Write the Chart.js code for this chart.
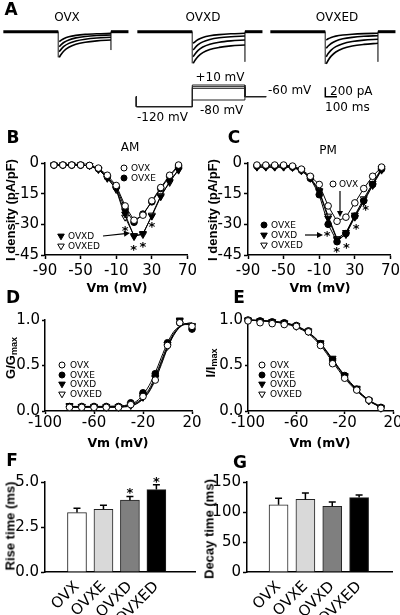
<!DOCTYPE html>
<html lang="en">
<head>
<meta charset="UTF-8">
<title>Ovariectomy current figure</title>
<script src="https://cdn.jsdelivr.net/npm/chart.js"></script>
<style>
  body { margin: 0; background: #fff; }
  #fig { position: relative; width: 400px; height: 615px; overflow: hidden; color: #000; font-family: "DejaVu Sans", sans-serif; }
  canvas { position: absolute; }
  .t { position: absolute; white-space: nowrap; line-height: 1; z-index: 3; }
  .lt { font: bold 17px "DejaVu Sans", sans-serif; }
  .ax { font: bold 12.5px "DejaVu Sans", sans-serif; }
  .ay { font: bold 13px "Liberation Sans", Arial, sans-serif; }
  .ay sub { font-size: 9px; vertical-align: -2px; }
  .lg { font: 9px "DejaVu Sans", sans-serif; }
  .tr { font: 12px "DejaVu Sans", sans-serif; }
</style>
</head>
<body>
<div id="fig"></div>
<script>
const groups = ['OVX', 'OVXE', 'OVXD', 'OVXED'];

// A: example currents (pA) against time (ms), step on at 450 ms, off at 900 ms
const traceT = [458, 475, 500, 540, 600, 680, 780, 900];
const tracesOVX = [
  [-213, -181, -145, -109, -79, -57, -43, -34],
  [-319, -274, -224, -175, -132, -102, -82, -70],
  [-426, -371, -309, -248, -196, -159, -134, -119],
  [-545, -479, -405, -332, -269, -225, -195, -177]
];
const tracesOVXD = [
  [-247, -209, -166, -123, -87, -62, -45, -34],
  [-389, -335, -276, -216, -166, -130, -106, -91],
  [-532, -468, -397, -326, -266, -223, -195, -177],
  [-672, -602, -524, -446, -380, -334, -302, -283]
];
const tracesOVXED = [
  [-177, -151, -123, -94, -70, -53, -41, -34],
  [-353, -305, -251, -198, -152, -120, -98, -85],
  [-532, -465, -391, -317, -255, -210, -180, -162],
  [-687, -608, -520, -432, -357, -304, -270, -247]
];
const offArtefact = [-390, -640, -640];
const baseT = [-20, 450, 900, 1050];
const protoT = [-28, -28, 450, 450, 900, 900, 1082];
const protoSteps = [10, 0, -10, -80];
const scaleBarT = [450, 450, 550];
const scaleBarI = [-1183, -1383, -1383];

// B, C: I-V curves (pA/pF)
const ivVm = [-80, -70, -60, -50, -40, -30, -20, -10, 0, 10, 20, 30, 40, 50, 60];
const amOVX   = [-1, -1, -1, -1, -1.2, -2.5, -6, -11, -21, -28, -25.5, -18.5, -12, -6, -1];
const amOVXE  = [-1, -1, -1, -1, -1.3, -2.8, -6.8, -11.8, -22.5, -29, -25, -19, -12.5, -6.5, -1.5];
const amOVXD  = [-1, -1, -1, -1, -1.3, -3, -7.5, -12.5, -25, -36, -34.5, -26, -16.5, -9, -3.5];
const amOVXED = [-1, -1, -1, -1, -1.2, -3.2, -7.2, -13, -26.5, -35.5, -35, -25.5, -16, -9.5, -3];
const pmOVX   = [-1, -1, -1, -1, -1.5, -3, -6.5, -10.5, -21, -28.5, -26.5, -19.5, -12.5, -6.5, -2];
const pmOVXE  = [-1.5, -1.5, -1.5, -1.5, -2, -3.5, -7.5, -15.5, -30, -38.5, -34.5, -26, -18.5, -10.5, -3];
const pmOVXD  = [-2, -2, -2, -2, -2, -3.5, -7.5, -14, -27, -37.5, -35, -26.5, -19, -11, -3.5];
const pmOVXED = [-2, -2, -2, -2, -2.2, -3.8, -7, -13.5, -26, -37, -34, -25.5, -17.5, -10, -2.5];
const amStarVm = [0, 9.5, 20, 30];
const amStarI = [-32, -41, -39.5, -30];
const pmStarVm = [-1, 9.5, 20.5, 31.5, 42];
const pmStarI = [-34.3, -42.2, -40.2, -30.7, -21.3];
const ivXTicks = [-90, -50, -10, 30, 70];
const ivYTicks = [-45, -30, -15, 0];

// D: activation (G/Gmax)
const actVm = [-80, -70, -60, -50, -40, -30, -20, -10, 0, 10, 20];
const actOVX   = [0.04, 0.04, 0.04, 0.04, 0.04, 0.07, 0.16, 0.34, 0.72, 0.97, 0.93];
const actOVXE  = [0.05, 0.05, 0.05, 0.05, 0.05, 0.09, 0.20, 0.41, 0.75, 0.97, 0.90];
const actOVXD  = [0.06, 0.05, 0.05, 0.05, 0.05, 0.07, 0.17, 0.37, 0.73, 1.00, 0.93];
const actOVXED = [0.05, 0.05, 0.04, 0.04, 0.04, 0.06, 0.15, 0.36, 0.71, 0.99, 0.94];
const fitActVm = [-80, -60, -40, -35, -30, -25, -20, -15, -10, -5, 0, 5, 10, 15, 20];
const fitActOVX   = [0.04, 0.04, 0.04, 0.045, 0.055, 0.08, 0.13, 0.21, 0.34, 0.51, 0.69, 0.83, 0.92, 0.96, 0.97];
const fitActOVXE  = [0.05, 0.05, 0.055, 0.06, 0.08, 0.11, 0.18, 0.28, 0.42, 0.59, 0.75, 0.87, 0.93, 0.95, 0.95];
const fitActOVXD  = [0.05, 0.05, 0.05, 0.055, 0.07, 0.095, 0.15, 0.24, 0.38, 0.55, 0.72, 0.85, 0.93, 0.96, 0.96];
const fitActOVXED = [0.045, 0.045, 0.045, 0.05, 0.06, 0.085, 0.14, 0.22, 0.36, 0.53, 0.70, 0.84, 0.92, 0.96, 0.96];

// E: inactivation (I/Imax)
const inVm = [-100, -90, -80, -70, -60, -50, -40, -30, -20, -10, 0, 10];
const inOVX   = [0.99, 0.97, 0.96, 0.95, 0.93, 0.87, 0.72, 0.52, 0.36, 0.23, 0.12, 0.03];
const inOVXE  = [1.00, 0.99, 0.98, 0.97, 0.94, 0.88, 0.74, 0.56, 0.39, 0.24, 0.12, 0.04];
const inOVXD  = [1.00, 0.99, 0.98, 0.97, 0.94, 0.88, 0.75, 0.58, 0.39, 0.25, 0.12, 0.04];
const inOVXED = [1.00, 0.99, 0.98, 0.96, 0.93, 0.87, 0.74, 0.56, 0.38, 0.24, 0.11, 0.03];
const fitInOVX   = [1.00, 0.99, 0.98, 0.96, 0.92, 0.85, 0.72, 0.54, 0.36, 0.22, 0.11, 0.04];
const fitInOVXE  = [1.00, 0.995, 0.985, 0.97, 0.93, 0.86, 0.74, 0.56, 0.38, 0.23, 0.12, 0.05];
const fitInOVXD  = [1.00, 0.995, 0.985, 0.97, 0.935, 0.865, 0.745, 0.57, 0.39, 0.24, 0.12, 0.04];
const fitInOVXED = [1.00, 0.995, 0.985, 0.965, 0.93, 0.86, 0.735, 0.56, 0.38, 0.23, 0.115, 0.04];
const vmTicks = [-100, -60, -20, 20];
const normTicks = [0, 0.5, 1];

// F, G: kinetics (ms)
const riseTime = [3.30, 3.48, 3.99, 4.58];
const riseErr = [0.24, 0.23, 0.21, 0.27];
const riseStar = [null, null, 4.54, 5.15];
const decayTime = [112, 121, 109.5, 124];
const decayErr = [11, 10.5, 7, 4.5];
const decayStar = [null, null, null, null];
const riseTicks = [0, 2.5, 5];
const decayTicks = [0, 50, 100, 150];

const barFill = ['#ffffff', '#d9d9d9', '#7f7f7f', '#000000'];
const marker = {
  OVX:   { style: 'circle', r: 3.3, rot: 0, fill: '#ffffff' },
  OVXE:  { style: 'circle', r: 3.3, rot: 0, fill: '#000000' },
  OVXD:  { style: 'triangle', r: 4, rot: 180, fill: '#000000' },
  OVXED: { style: 'triangle', r: 4, rot: 180, fill: '#ffffff' }
};

const fig = document.getElementById('fig');
const tickFont = { family: 'DejaVu Sans', size: 15 };

function canvasAt(x, y, w, h) {
  const c = document.createElement('canvas');
  c.width = w; c.height = h;
  c.style.left = x + 'px'; c.style.top = y + 'px';
  c.style.width = w + 'px'; c.style.height = h + 'px';
  fig.appendChild(c);
  return c;
}

// canvas around a wanted plot area
function place(a, yw, pt, pr, xh) {
  return canvasAt(a.l - yw, a.t - pt, a.r - a.l + yw + pr, a.b - a.t + pt + xh);
}

function baseOpts(scales, pt, pr) {
  return {
    responsive: false, animation: false, devicePixelRatio: 1, events: [],
    layout: { padding: { left: 0, top: pt, right: pr, bottom: 0 } },
    plugins: { legend: { display: false }, tooltip: { enabled: false } },
    scales: scales
  };
}

function linAxis(pos, min, max, ticks, fmt, size, pad, tl) {
  return {
    type: 'linear', position: pos, min: min, max: max,
    afterBuildTicks: s => { s.ticks = ticks.map(v => ({ value: v })); },
    afterFit: s => { if (pos === 'bottom') s.height = size; else s.width = size; },
    border: { display: true, color: '#000', width: 1.5 },
    grid: { display: true, drawOnChartArea: false, drawTicks: true, tickLength: tl, tickColor: '#000', tickWidth: 1.5 },
    ticks: { color: '#000', font: tickFont, padding: pad, autoSkip: false, maxRotation: 0, minRotation: 0, callback: fmt }
  };
}

function hidden(min, max) {
  return { type: 'linear', display: false, min: min, max: max };
}

function lineSet(xs, ys, w, smooth, col) {
  return {
    data: xs.map((x, i) => ({ x: x, y: ys[i] })),
    showLine: true, pointRadius: 0, borderColor: col || '#000', borderWidth: w,
    cubicInterpolationMode: smooth ? 'monotone' : 'default', tension: 0, clip: false
  };
}

function pointSet(name, xs, ys, withLine) {
  const m = marker[name];
  return {
    label: name,
    data: xs.map((x, i) => ({ x: x, y: ys[i] })),
    showLine: withLine, borderColor: '#000', borderWidth: 1,
    pointStyle: m.style, pointRadius: m.r, pointRotation: m.rot,
    pointBackgroundColor: m.fill, pointBorderColor: '#000', pointBorderWidth: 1,
    clip: false
  };
}

function starPlugin(xs, ys) {
  return {
    id: 'stars',
    afterDatasetsDraw(chart) {
      const ctx = chart.ctx, sx = chart.scales.x, sy = chart.scales.y;
      ctx.save();
      ctx.fillStyle = '#000';
      ctx.font = 'bold 13px "DejaVu Sans"';
      ctx.textAlign = 'center';
      ctx.textBaseline = 'alphabetic';
      xs.forEach((x, i) => {
        if (ys[i] == null) return;
        ctx.fillText('*', sx.getPixelForValue(x), sy.getPixelForValue(ys[i]) + 7);
      });
      ctx.restore();
    }
  };
}

function errPlugin(vals, errs) {
  return {
    id: 'errbars',
    afterDatasetsDraw(chart) {
      const ctx = chart.ctx, sx = chart.scales.x, sy = chart.scales.y;
      ctx.save();
      ctx.strokeStyle = '#000';
      ctx.lineWidth = 1.5;
      vals.forEach((v, i) => {
        const x = sx.getPixelForValue(i + 1);
        const y0 = sy.getPixelForValue(v), y1 = sy.getPixelForValue(v + errs[i]);
        ctx.beginPath();
        ctx.moveTo(x, y0); ctx.lineTo(x, y1);
        ctx.moveTo(x - 3.5, y1); ctx.lineTo(x + 3.5, y1);
        ctx.stroke();
      });
      ctx.restore();
    }
  };
}

// ---- A: traces ----
function tracePanel(left, traces, offDepth, extra) {
  const c = canvasAt(left, 20, 145, 90);
  const ds = [
    lineSet(baseT.slice(0, 2), [0, 0], 3),
    lineSet(baseT.slice(2, 4), [0, 0], 3)
  ];
  traces.forEach(tr => ds.push(lineSet(traceT, tr, 1.6, true)));
  const deepest = Math.min(...traces.map(tr => tr[0]));
  ds.push(lineSet([450, 450], [0, deepest], 0.8, false, '#555'));
  ds.push(lineSet([900, 900], [0, offDepth], 0.8, false, '#555'));
  if (extra) ds.push(extra);
  new Chart(c, {
    type: 'scatter',
    data: { datasets: ds },
    options: baseOpts({ x: hidden(-40, 1200), y: hidden(-1666, 249) }, 0, 0)
  });
}
tracePanel(1, tracesOVX, offArtefact[0]);
tracePanel(135, tracesOVXD, offArtefact[1]);
tracePanel(268, tracesOVXED, offArtefact[2], lineSet(scaleBarT, scaleBarI, 1.5, false));

// voltage protocol, same time base as the OVXD traces
new Chart(canvasAt(135, 70, 145, 50), {
  type: 'scatter',
  data: {
    datasets: protoSteps.map(v => lineSet(protoT, [-60, -120, -120, v, v, -60, -60], 1, false, '#222'))
  },
  options: baseOpts({ x: hidden(-40, 1200), y: hidden(-200, 100) }, 0, 0)
});

// ---- B, C: I-V ----
function ivPanel(a, sets, sVm, sI) {
  const c = place(a, 45, 12, 10, 30);
  new Chart(c, {
    type: 'scatter',
    data: { datasets: sets.map((d, i) => pointSet(groups[i], ivVm, d, true)) },
    options: baseOpts({
      x: linAxis('bottom', -90, 70, ivXTicks, v => String(v), 30, 3, 4),
      y: linAxis('left', -45, 0, ivYTicks, v => String(v), 45, 2, 4)
    }, 12, 10),
    plugins: [starPlugin(sVm, sI)]
  });
}
ivPanel({ l: 45, t: 163, r: 190, b: 255 }, [amOVX, amOVXE, amOVXD, amOVXED], amStarVm, amStarI);
ivPanel({ l: 248, t: 163, r: 393, b: 255 }, [pmOVX, pmOVXE, pmOVXD, pmOVXED], pmStarVm, pmStarI);

// ---- D, E: normalised curves ----
function normPanel(a, xs, sets, fitXs, fits, xmin, xmax) {
  const c = place(a, 45, 12, 10, 30);
  const ds = sets.map((d, i) => pointSet(groups[i], xs, d, false));
  fits.forEach(f => ds.push(lineSet(fitXs, f, 1, true)));
  new Chart(c, {
    type: 'scatter',
    data: { datasets: ds },
    options: baseOpts({
      x: linAxis('bottom', xmin, xmax, vmTicks, v => String(v), 30, 0, 3),
      y: linAxis('left', 0, 1, normTicks, v => v.toFixed(1), 45, 2, 3)
    }, 12, 10)
  });
}
normPanel({ l: 45, t: 320, r: 192, b: 411 }, actVm,
  [actOVX, actOVXE, actOVXD, actOVXED], fitActVm,
  [fitActOVX, fitActOVXE, fitActOVXD, fitActOVXED], -100, 20);
normPanel({ l: 248, t: 320, r: 393, b: 411 }, inVm,
  [inOVX, inOVXE, inOVXD, inOVXED], inVm,
  [fitInOVX, fitInOVXE, fitInOVXD, fitInOVXED], -100, 20);

// ---- F, G: bars ----
function barPanel(a, vals, errs, stars, xmax, yMax, yTicks, fmt) {
  const c = place(a, 45, 12, 6, 615 - a.b);
  new Chart(c, {
    type: 'bar',
    data: {
      datasets: [{
        data: vals.map((v, i) => ({ x: i + 1, y: v })),
        backgroundColor: barFill, borderColor: '#222', borderWidth: 1,
        borderSkipped: 'bottom', barThickness: 19
      }]
    },
    options: baseOpts({
      x: {
        type: 'linear', position: 'bottom', min: 0.5, max: xmax,
        afterBuildTicks: s => { s.ticks = groups.map((g, i) => ({ value: i + 1 })); },
        afterFit: s => { s.height = 615 - a.b; },
        border: { display: true, color: '#000', width: 1.5 },
        grid: { display: false, drawTicks: false },
        ticks: { color: '#000', font: tickFont, padding: 6, autoSkip: false,
                 minRotation: 45, maxRotation: 45, callback: v => groups[v - 1] }
      },
      y: linAxis('left', 0, yMax, yTicks, fmt, 45, 2, 4)
    }, 12, 6),
    plugins: [errPlugin(vals, errs), starPlugin([1, 2, 3, 4], stars)]
  });
}
barPanel({ l: 45, t: 482, r: 195, b: 572 }, riseTime, riseErr, riseStar, 4.75, 5, riseTicks, v => v.toFixed(1));
barPanel({ l: 247, t: 482, r: 392, b: 572 }, decayTime, decayErr, decayStar, 4.55, 150, decayTicks, v => String(v));

// ---- legend markers and arrows ----
const ov = canvasAt(0, 0, 400, 615);
ov.style.zIndex = 2;
const octx = ov.getContext('2d');

function drawMarker(name, x, y) {
  const m = marker[name];
  octx.save();
  octx.fillStyle = m.fill;
  octx.strokeStyle = '#000';
  octx.lineWidth = 1;
  octx.beginPath();
  if (m.style === 'circle') {
    octx.arc(x, y, 3, 0, Math.PI * 2);
  } else {
    const r = 3.8;
    octx.moveTo(x, y + r);
    octx.lineTo(x - r * 0.866, y - r / 2);
    octx.lineTo(x + r * 0.866, y - r / 2);
    octx.closePath();
  }
  octx.fill();
  octx.stroke();
  octx.restore();
}

function arrow(x0, y0, x1, y1) {
  const ang = Math.atan2(y1 - y0, x1 - x0);
  octx.save();
  octx.strokeStyle = '#000';
  octx.fillStyle = '#000';
  octx.lineWidth = 1.2;
  octx.beginPath();
  octx.moveTo(x0, y0);
  octx.lineTo(x1 - 5 * Math.cos(ang), y1 - 5 * Math.sin(ang));
  octx.stroke();
  octx.beginPath();
  octx.moveTo(x1, y1);
  octx.lineTo(x1 - 6 * Math.cos(ang) + 3 * Math.sin(ang), y1 - 6 * Math.sin(ang) - 3 * Math.cos(ang));
  octx.lineTo(x1 - 6 * Math.cos(ang) - 3 * Math.sin(ang), y1 - 6 * Math.sin(ang) + 3 * Math.cos(ang));
  octx.closePath();
  octx.fill();
  octx.restore();
}

// text helper
function T(html, x, y, cls, anchor) {
  const d = document.createElement('div');
  d.className = 't ' + cls;
  d.innerHTML = html;
  d.style.left = x + 'px';
  d.style.top = y + 'px';
  d.style.transform = anchor === 'l' ? 'translate(0,-50%)'
    : anchor === 'v' ? 'translate(-50%,-50%) rotate(-90deg)'
    : 'translate(-50%,-50%)';
  fig.appendChild(d);
}

// legends
function legendRows(names, mx, tx, ys) {
  names.forEach((n, i) => {
    drawMarker(n, mx, ys[i]);
    T(n, tx, ys[i], 'lg', 'l');
  });
}
legendRows(['OVX', 'OVXE'], 124, 131, [168, 178]);
legendRows(['OVXD', 'OVXED'], 61, 68, [236, 246]);
arrow(103, 236, 130, 233);
legendRows(['OVX'], 333, 339, [184]);
arrow(340, 191, 340, 217);
legendRows(['OVXE', 'OVXD', 'OVXED'], 264, 271, [225, 235, 245]);
arrow(305, 235, 323, 235);
legendRows(groups, 62, 70, [365, 375, 384, 394]);
legendRows(groups, 262, 270, [365, 375, 384, 394]);

// panel A labels
T('OVX', 67, 17, 'tr');
T('OVXD', 203, 17, 'tr');
T('OVXED', 337, 17, 'tr');
T('+10 mV', 220, 77, 'tr');
T('-60 mV', 268, 90, 'tr', 'l');
T('-120 mV', 137, 117, 'tr', 'l');
T('-80 mV', 200, 110, 'tr', 'l');
T('200 pA', 330, 91, 'tr', 'l');
T('100 ms', 325, 107, 'tr', 'l');

// panel letters
T('A', 11, 9, 'lt');
T('B', 13, 137, 'lt');
T('C', 234, 137, 'lt');
T('D', 13, 297, 'lt');
T('E', 239, 297, 'lt');
T('F', 12, 460, 'lt');
T('G', 240, 462, 'lt');
T('AM', 130, 147, 'tr');
T('PM', 328, 150, 'tr');

// axis titles
T('I density (pA/pF)', 10, 210, 'ay', 'v');
T('I density (pA/pF)', 212, 210, 'ay', 'v');
T('G/G<sub>max</sub>', 11, 358, 'ay', 'v');
T('I/I<sub>max</sub>', 211, 363, 'ay', 'v');
T('Rise time (ms)', 10, 526, 'ay', 'v');
T('Decay time (ms)', 209, 529, 'ay', 'v');
T('Vm (mV)', 117, 287, 'ax');
T('Vm (mV)', 320, 287, 'ax');
T('Vm (mV)', 118, 442, 'ax');
T('Vm (mV)', 320, 442, 'ax');
</script>
</body>
</html>
